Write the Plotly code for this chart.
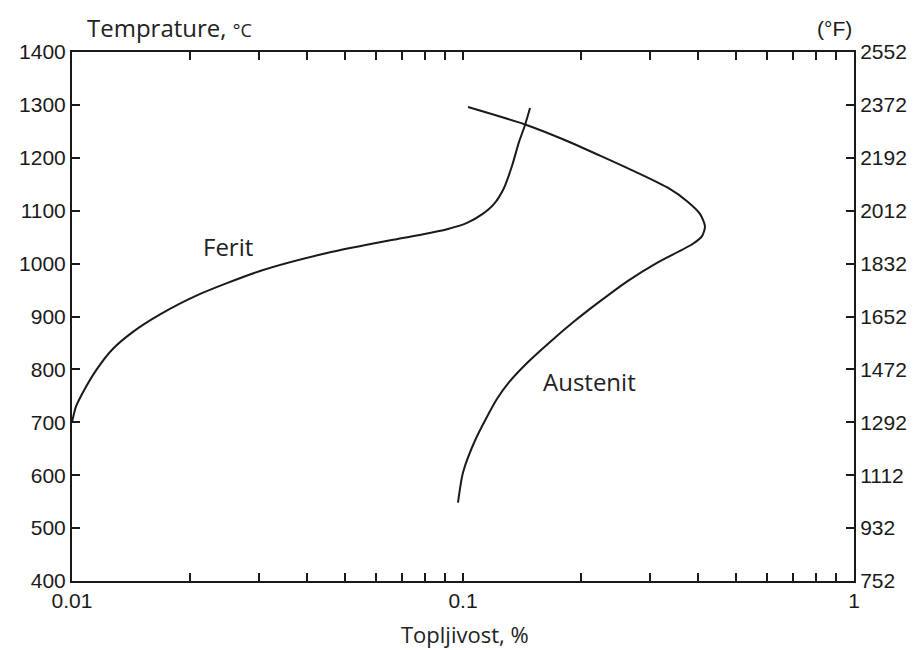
import plotly.graph_objects as go

# Ferrite solubility curve (%, °C)
ferit_x = [0.01000, 0.01024, 0.01067, 0.01159, 0.01273, 0.01432, 0.01680, 0.02087,
           0.03026, 0.04488, 0.06622, 0.07856, 0.09101, 0.1024, 0.1118, 0.1201,
           0.1273, 0.1335, 0.1391, 0.1441, 0.1484]
ferit_t = [700, 730, 757, 801, 839, 871, 904, 940,
           986, 1020, 1045, 1055, 1065, 1077, 1093, 1113,
           1143, 1185, 1230, 1262, 1294]

# Austenite solubility curve (%, °C)
austenit_x = [0.1030, 0.1441, 0.1802, 0.2241, 0.2786, 0.3364, 0.3741, 0.4037, 0.4158,
              0.4085, 0.3864, 0.3126, 0.2636, 0.2243, 0.1919, 0.1670, 0.1467, 0.1312,
              0.1221, 0.1077, 0.1000, 0.0971]
austenit_t = [1296, 1263, 1235, 1204, 1172, 1142, 1118, 1094, 1070,
              1052, 1037, 1001, 967, 929, 890, 852, 814, 776,
              744, 668, 605, 548]

# Axis ticks
c_ticks = [400, 500, 600, 700, 800, 900, 1000, 1100, 1200, 1300, 1400]
f_ticks = [752, 932, 1112, 1292, 1472, 1652, 1832, 2012, 2192, 2372, 2552]
x_major = [0.01, 0.1, 1]
x_major_labels = ["0.01", "0.1", "1"]

x_ticks = []
x_labels = []
for dec in [0.01, 0.1]:
    for m in range(1, 10):
        x_ticks.append(round(dec * m, 4))
        x_labels.append(x_major_labels[x_major.index(dec)] if m == 1 else "")
x_ticks.append(1)
x_labels.append("1")

LINE = "#1a1a1a"
AX = "#1a1a1a"
TICKFONT = dict(family="Liberation Sans, Arial, sans-serif", size=21, color="#1a1a1a")
TEXTFONT = dict(family="Open Sans, sans-serif", size=24, color="#222")

fig = go.Figure()
fig.add_trace(go.Scatter(x=ferit_x, y=ferit_t, mode="lines",
                         line=dict(color=LINE, width=2, shape="spline", smoothing=0.7),
                         showlegend=False, hoverinfo="skip"))
fig.add_trace(go.Scatter(x=austenit_x, y=austenit_t, mode="lines",
                         line=dict(color=LINE, width=2, shape="spline", smoothing=0.7),
                         showlegend=False, hoverinfo="skip"))
# invisible trace on the °F axis so it renders
fig.add_trace(go.Scatter(x=[0.01, 1], y=[f_ticks[0], f_ticks[-1]], yaxis="y2",
                         mode="lines", line=dict(width=0), opacity=0,
                         showlegend=False, hoverinfo="skip"))

fig.update_layout(
    width=924, height=650,
    margin=dict(l=64, r=78, t=44, b=77),
    paper_bgcolor="white", plot_bgcolor="white",
    xaxis=dict(type="log", range=[-2, 0], tickvals=x_ticks, ticktext=x_labels,
               ticks="inside", ticklen=8, tickwidth=1.5, tickcolor=AX,
               showline=True, linecolor=AX, linewidth=2, mirror="ticks",
               showgrid=False, zeroline=False, tickfont=TICKFONT),
    yaxis=dict(range=[400, 1400], tickvals=c_ticks,
               ticks="inside", ticklen=8, tickwidth=1.5, tickcolor=AX,
               showline=True, linecolor=AX, linewidth=2,
               showgrid=False, zeroline=False, tickfont=TICKFONT),
    yaxis2=dict(range=[752, 2552], tickvals=f_ticks, overlaying="y", side="right",
                ticks="inside", ticklen=8, tickwidth=1.5, tickcolor=AX,
                showline=True, linecolor=AX, linewidth=2,
                showgrid=False, zeroline=False, tickfont=TICKFONT),
    annotations=[
        dict(text="Temprature, <span style='font-size:18px'>°C</span>", xref="paper", yref="paper",
             x=0.016, y=1.047, xanchor="left", yanchor="middle", showarrow=False, font=TEXTFONT),
        dict(text="(°F)", xref="paper", yref="paper", x=1.0, y=1.045,
             xanchor="right", yanchor="middle", showarrow=False,
             font=dict(family="Liberation Sans, Arial, sans-serif", size=21, color="#1a1a1a")),
        dict(text="Topljivost, %", xref="paper", yref="paper", x=0.502, y=-0.100,
             xanchor="center", yanchor="middle", showarrow=False,
             font=dict(family="Open Sans, sans-serif", size=22, color="#222")),
        dict(text="Ferit", x=-1.6, y=1033, xref="x", yref="y", showarrow=False, font=TEXTFONT),
        dict(text="Austenit", x=-0.677, y=777, xref="x", yref="y", showarrow=False, font=TEXTFONT),
    ],
)

fig.write_html("out.html")
